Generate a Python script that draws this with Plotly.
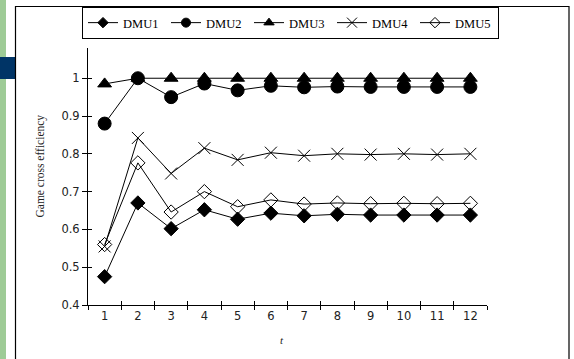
import plotly.graph_objects as go

t = list(range(1, 13))
dmu1 = [0.475, 0.670, 0.602, 0.652, 0.627, 0.643, 0.636, 0.640, 0.638, 0.638, 0.638, 0.638]
dmu2 = [0.880, 1.000, 0.950, 0.986, 0.968, 0.980, 0.976, 0.978, 0.977, 0.977, 0.977, 0.977]
dmu3 = [0.985, 1.000, 1.000, 1.000, 1.000, 1.000, 1.000, 1.000, 1.000, 1.000, 1.000, 1.000]
dmu4 = [0.555, 0.842, 0.748, 0.815, 0.784, 0.803, 0.795, 0.800, 0.798, 0.800, 0.798, 0.800]
dmu5 = [0.560, 0.776, 0.646, 0.700, 0.660, 0.678, 0.667, 0.670, 0.668, 0.669, 0.668, 0.669]
names = ["DMU1", "DMU2", "DMU3", "DMU4", "DMU5"]
series = [dmu1, dmu2, dmu3, dmu4, dmu5]
symbols = ["diamond", "circle", "triangle-up", "x-thin-open", "diamond-open"]
sizes = [11, 13, 12, 12, 11]
leg_sizes = [8, 9, 9, 10, 8]

y_ticks = [0.4, 0.5, 0.6, 0.7, 0.8, 0.9, 1.0]
y_ticktext = ["0.4", "0.5", "0.6", "0.7", "0.8", "0.9", "1"]
x_bounds = [k + 0.5 for k in range(0, 13)]

W, H = 574, 359
L, R, T, B = 88, 487, 48, 305
pw, ph = R - L, B - T

def px(x):
    return (x - L) / pw

def py(y):
    return (B - y) / ph

fig = go.Figure()
for nm, s, sym, sz in zip(names, series, symbols, sizes):
    fig.add_trace(go.Scatter(
        x=t, y=s, name=nm, mode="lines+markers", showlegend=False,
        line=dict(color="black", width=1),
        marker=dict(symbol=sym, size=sz, color="black",
                    line=dict(color="black", width=1)),
    ))
for nm, sym, sz in zip(names, symbols, leg_sizes):
    fig.add_trace(go.Scatter(
        x=[None], y=[None], name=nm, mode="lines+markers",
        line=dict(color="black", width=1),
        marker=dict(symbol=sym, size=sz, color="black",
                    line=dict(color="black", width=1)),
    ))
# invisible trace for overlay axes
fig.add_trace(go.Scatter(x=[1], y=[0.4], xaxis="x2", yaxis="y2",
                         mode="markers", marker=dict(opacity=0),
                         showlegend=False, hoverinfo="skip"))

tickfont = dict(family="DejaVu Sans", size=11.5, color="#222")
fig.update_layout(
    width=W, height=H,
    margin=dict(l=L, r=W - R, t=T, b=H - B, autoexpand=False),
    paper_bgcolor="white", plot_bgcolor="white",
    showlegend=True,
    legend=dict(orientation="h", x=px(82), y=py(7), xanchor="left", yanchor="top",
                bordercolor="black", borderwidth=1,
                font=dict(family="Liberation Serif", size=12.5, color="black"),
                itemwidth=30, tracegroupgap=0, entrywidth=38,
                bgcolor="white"),
    xaxis=dict(range=[0.5, 12.5], tickmode="array", tickvals=t,
               ticktext=[str(v) for v in t], ticks="", showgrid=False,
               zeroline=False, showline=True, linecolor="black", linewidth=1,
               tickfont=tickfont, automargin=False,
               minor=dict(tickmode="array", tickvals=x_bounds, ticks="outside",
                          ticklen=4, tickcolor="black", showgrid=False)),
    yaxis=dict(range=[0.4, 1.08], tickmode="array", tickvals=y_ticks,
               ticktext=y_ticktext, ticks="outside", ticklen=5,
               tickcolor="black", showgrid=False, zeroline=False,
               showline=True, linecolor="black", linewidth=1,
               tickfont=tickfont, automargin=False),
    xaxis2=dict(range=[0.5, 12.5], overlaying="x", anchor="y2",
                tickmode="array", tickvals=x_bounds, ticks="inside",
                ticklen=4, tickcolor="black", showticklabels=False,
                showgrid=False, zeroline=False, side="bottom"),
    yaxis2=dict(range=[0.4, 1.08], overlaying="y", anchor="x2",
                tickmode="array", tickvals=y_ticks, ticks="inside",
                ticklen=4, tickcolor="black", showticklabels=False,
                showgrid=False, zeroline=False, side="left"),
    shapes=[
        dict(type="rect", xref="paper", yref="paper", x0=px(0), x1=px(6),
             y0=py(365), y1=py(-5), fillcolor="#9ecb96", line=dict(width=0),
             layer="below"),
        dict(type="rect", xref="paper", yref="paper", x0=px(0), x1=px(15),
             y0=py(79), y1=py(57), fillcolor="#003466", line=dict(width=0),
             layer="below"),
        dict(type="rect", xref="paper", yref="paper", x0=px(15.5), x1=px(569),
             y0=py(370), y1=py(6.5), fillcolor="rgba(0,0,0,0)",
             line=dict(color="black", width=1.2), layer="below"),
    ],
    annotations=[
        dict(text="Game cross efficiency", xref="paper", yref="paper",
             x=px(31), y=py(166), textangle=-90, showarrow=False,
             font=dict(family="Liberation Serif", size=11.5, color="#222")),
        dict(text="<i>t</i>", xref="paper", yref="paper",
             x=px(282), y=py(348), showarrow=False,
             font=dict(family="Liberation Serif", size=11, color="#222")),
    ],
)

fig.write_html("out.html")
